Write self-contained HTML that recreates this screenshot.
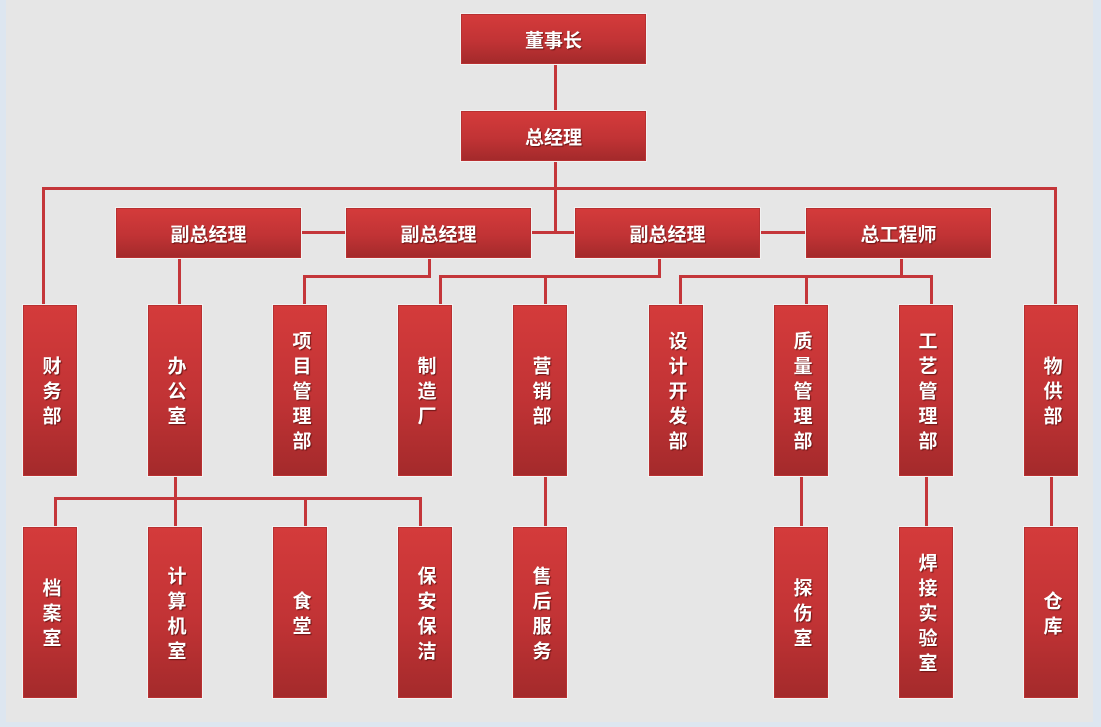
<!DOCTYPE html>
<html><head><meta charset="utf-8"><style>
html,body{margin:0;padding:0}
body{width:1101px;height:727px;position:relative;background:#dde6f0;overflow:hidden;font-family:"Liberation Sans","Noto Sans CJK SC",sans-serif}
#bg{position:absolute;left:6px;top:0;width:1087px;height:722px;background:#e6e6e6}
.l{position:absolute;background:#c4363a}
.b{position:absolute;box-sizing:border-box;background:linear-gradient(#d43b3b,#c13335 55%,#a42a2b);border:1px solid #b83031;box-shadow:0 0 0 1px #f2f2f2;color:#fff;font-weight:bold;font-size:19px;text-shadow:1px 1px 1px #6a1515;display:flex;align-items:center;justify-content:center}
.v{width:54px;height:171px;writing-mode:vertical-rl;text-orientation:upright;letter-spacing:6px;font-size:19px;padding-top:6px}
.h{width:185px;height:50px}
</style></head><body>
<div id="bg"></div>
<div class="l" style="left:554px;top:63px;width:3px;height:170px"></div>
<div class="l" style="left:42px;top:187px;width:1015px;height:3px"></div>
<div class="l" style="left:42px;top:187px;width:3px;height:120px"></div>
<div class="l" style="left:1054px;top:187px;width:3px;height:120px"></div>
<div class="l" style="left:301px;top:231px;width:690px;height:3px"></div>
<div class="l" style="left:178px;top:258px;width:3px;height:48px"></div>
<div class="l" style="left:428px;top:258px;width:3px;height:19px"></div>
<div class="l" style="left:303px;top:275px;width:128px;height:3px"></div>
<div class="l" style="left:303px;top:275px;width:3px;height:31px"></div>
<div class="l" style="left:658px;top:258px;width:3px;height:19px"></div>
<div class="l" style="left:439px;top:275px;width:222px;height:3px"></div>
<div class="l" style="left:439px;top:275px;width:3px;height:31px"></div>
<div class="l" style="left:544px;top:275px;width:3px;height:31px"></div>
<div class="l" style="left:900px;top:258px;width:3px;height:19px"></div>
<div class="l" style="left:679px;top:275px;width:254px;height:3px"></div>
<div class="l" style="left:679px;top:275px;width:3px;height:31px"></div>
<div class="l" style="left:805px;top:275px;width:3px;height:31px"></div>
<div class="l" style="left:930px;top:275px;width:3px;height:31px"></div>
<div class="l" style="left:174px;top:476px;width:3px;height:52px"></div>
<div class="l" style="left:54px;top:497px;width:368px;height:3px"></div>
<div class="l" style="left:54px;top:497px;width:3px;height:31px"></div>
<div class="l" style="left:304px;top:497px;width:3px;height:31px"></div>
<div class="l" style="left:419px;top:497px;width:3px;height:31px"></div>
<div class="l" style="left:544px;top:476px;width:3px;height:52px"></div>
<div class="l" style="left:800px;top:476px;width:3px;height:52px"></div>
<div class="l" style="left:925px;top:476px;width:3px;height:52px"></div>
<div class="l" style="left:1050px;top:476px;width:3px;height:52px"></div>
<div class="b h" style="left:461px;top:14px">董事长</div>
<div class="b h" style="left:461px;top:111px">总经理</div>
<div class="b h" style="left:116px;top:208px">副总经理</div>
<div class="b h" style="left:346px;top:208px">副总经理</div>
<div class="b h" style="left:575px;top:208px">副总经理</div>
<div class="b h" style="left:806px;top:208px">总工程师</div>
<div class="b v" style="left:23px;top:305px">财务部</div>
<div class="b v" style="left:148px;top:305px">办公室</div>
<div class="b v" style="left:273px;top:305px">项目管理部</div>
<div class="b v" style="left:398px;top:305px">制造厂</div>
<div class="b v" style="left:513px;top:305px">营销部</div>
<div class="b v" style="left:649px;top:305px">设计开发部</div>
<div class="b v" style="left:774px;top:305px">质量管理部</div>
<div class="b v" style="left:899px;top:305px">工艺管理部</div>
<div class="b v" style="left:1024px;top:305px">物供部</div>
<div class="b v" style="left:23px;top:527px">档案室</div>
<div class="b v" style="left:148px;top:527px">计算机室</div>
<div class="b v" style="left:273px;top:527px">食堂</div>
<div class="b v" style="left:398px;top:527px">保安保洁</div>
<div class="b v" style="left:513px;top:527px">售后服务</div>
<div class="b v" style="left:774px;top:527px">探伤室</div>
<div class="b v" style="left:899px;top:527px">焊接实验室</div>
<div class="b v" style="left:1024px;top:527px">仓库</div>
</body></html>
